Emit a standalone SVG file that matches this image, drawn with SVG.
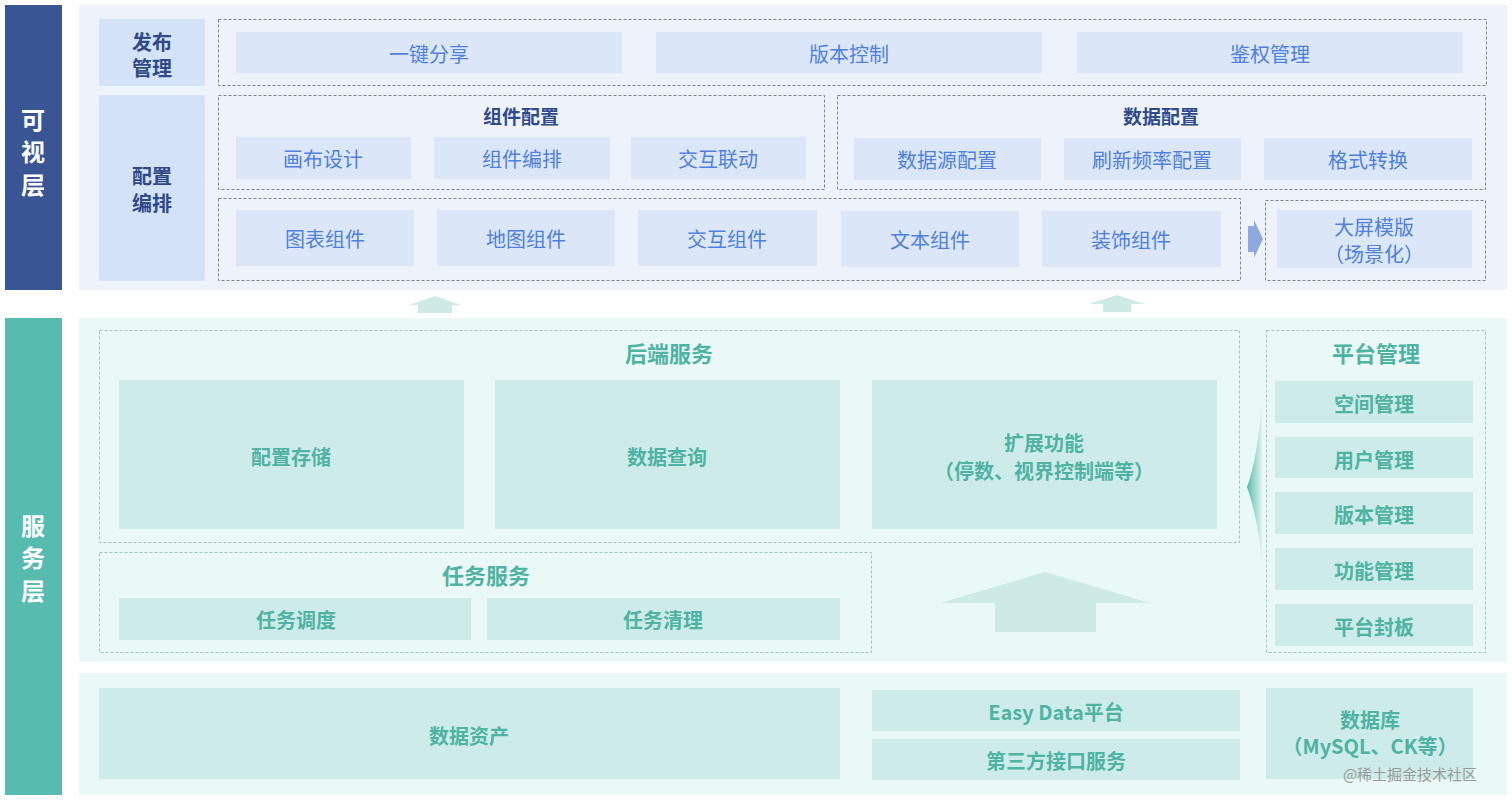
<svg xmlns="http://www.w3.org/2000/svg" width="1512" height="801" viewBox="0 0 1512 801">
<defs>
<style>
text{font-family:"Noto Sans CJK SC","Noto Sans",sans-serif;text-anchor:middle;dominant-baseline:central}
.bar-v{fill:#3a5593}
.bar-s{fill:#58bbaf}
.bar-t{fill:#fff;font-size:24px;font-weight:bold}
.pan-v{fill:#eef3fb}
.pan-s{fill:#ebf9f6}
.hd{fill:#d3e2f7}
.hdt{fill:#2f4a8a;font-size:20px;font-weight:bold}
.dv{fill:none;stroke:#7d8390;stroke-width:1;stroke-dasharray:3 2}
.ds{fill:none;stroke:#9fc4bd;stroke-width:1;stroke-dasharray:3 2}
.bv{fill:#dbe7f8}
.tv{fill:#4f80de;font-size:20px}
.ttl{fill:#2f4a8a;font-size:19px;font-weight:bold}
.bs{fill:#cdece9}
.ts{fill:#4fb3a4;font-size:20px;font-weight:bold}
.tts{fill:#4fb3a4;font-size:22px;font-weight:bold}
.arr{fill:#cdeae6}
</style>
<linearGradient id="lg" x1="0" y1="0" x2="1" y2="0">
<stop offset="0" stop-color="#58bbaf"/>
<stop offset="1" stop-color="#58bbaf" stop-opacity="0.1"/>
</linearGradient>
</defs>

<g id="layer-visual">
<rect class="bar-v" x="5" y="5" width="57" height="285"/>
<text class="bar-t" x="33" y="118">可</text>
<text class="bar-t" x="33" y="150">视</text>
<text class="bar-t" x="33" y="183">层</text>
<rect class="pan-v" x="79" y="5" width="1428" height="285"/>
</g>

<g id="layer-service">
<rect class="bar-s" x="5" y="318" width="57" height="477"/>
<text class="bar-t" x="33" y="524">服</text>
<text class="bar-t" x="33" y="556">务</text>
<text class="bar-t" x="33" y="589">层</text>
<rect class="pan-s" x="79" y="318" width="1428" height="344"/>
<rect class="pan-s" x="79" y="673" width="1428" height="122"/>
</g>

<g id="publish">
<rect class="hd" x="99" y="19" width="106" height="67" rx="2"/>
<text class="hdt" x="152" y="41">发布</text>
<text class="hdt" x="152" y="67">管理</text>
<rect class="dv" x="218.5" y="19.5" width="1268" height="66"/>
<rect class="bv" x="236" y="32" width="386" height="41"/>
<text class="tv" x="429" y="53">一键分享</text>
<rect class="bv" x="656" y="32" width="386" height="41"/>
<text class="tv" x="849" y="53">版本控制</text>
<rect class="bv" x="1077" y="32" width="386" height="41"/>
<text class="tv" x="1270" y="53">鉴权管理</text>
</g>

<g id="config">
<rect class="hd" x="99" y="95" width="106" height="186" rx="2"/>
<text class="hdt" x="152" y="175">配置</text>
<text class="hdt" x="152" y="202">编排</text>
</g>

<g id="component-config">
<rect class="dv" x="218.5" y="95.5" width="606" height="94"/>
<text class="ttl" x="521" y="115">组件配置</text>
<rect class="bv" x="236" y="137" width="175" height="42"/>
<text class="tv" x="323" y="158">画布设计</text>
<rect class="bv" x="434" y="137" width="176" height="42"/>
<text class="tv" x="522" y="158">组件编排</text>
<rect class="bv" x="631" y="137" width="175" height="42"/>
<text class="tv" x="718" y="158">交互联动</text>
</g>

<g id="data-config">
<rect class="dv" x="837.5" y="95.5" width="648" height="94"/>
<text class="ttl" x="1161" y="115">数据配置</text>
<rect class="bv" x="854" y="138" width="187" height="42"/>
<text class="tv" x="947" y="159">数据源配置</text>
<rect class="bv" x="1064" y="138" width="177" height="42"/>
<text class="tv" x="1152" y="159">刷新频率配置</text>
<rect class="bv" x="1264" y="138" width="208" height="42"/>
<text class="tv" x="1368" y="159">格式转换</text>
</g>

<g id="components">
<rect class="dv" x="218.5" y="198.5" width="1022" height="82"/>
<rect class="bv" x="236" y="210" width="178" height="56"/>
<text class="tv" x="325" y="238">图表组件</text>
<rect class="bv" x="437" y="210" width="178" height="56"/>
<text class="tv" x="526" y="238">地图组件</text>
<rect class="bv" x="638" y="210" width="179" height="56"/>
<text class="tv" x="727" y="238">交互组件</text>
<rect class="bv" x="841" y="211" width="178" height="56"/>
<text class="tv" x="930" y="239">文本组件</text>
<rect class="bv" x="1042" y="211" width="179" height="56"/>
<text class="tv" x="1131" y="239">装饰组件</text>
</g>

<g id="template">
<rect class="dv" x="1265.5" y="200.5" width="220" height="80"/>
<rect class="bv" x="1277" y="210" width="195" height="58"/>
<text class="tv" x="1374" y="226">大屏模版</text>
<text class="tv" x="1374" y="253">（场景化）</text>
</g>

<g id="backend">
<rect class="ds" x="99.5" y="330.5" width="1140" height="212"/>
<text class="tts" x="669" y="352">后端服务</text>
<rect class="bs" x="119" y="380" width="345" height="149"/>
<text class="ts" x="291" y="456">配置存储</text>
<rect class="bs" x="495" y="380" width="345" height="149"/>
<text class="ts" x="667" y="456">数据查询</text>
<rect class="bs" x="872" y="380" width="345" height="149"/>
<text class="ts" x="1044" y="442">扩展功能</text>
<text class="ts" x="1044" y="470">（停数、视界控制端等）</text>
</g>

<g id="task">
<rect class="ds" x="99.5" y="552.5" width="772" height="100"/>
<text class="tts" x="486" y="574">任务服务</text>
<rect class="bs" x="119" y="598" width="352" height="42"/>
<text class="ts" x="296" y="619">任务调度</text>
<rect class="bs" x="487" y="598" width="353" height="42"/>
<text class="ts" x="663" y="619">任务清理</text>
</g>

<g id="platform">
<rect class="ds" x="1266.5" y="330.5" width="219" height="322"/>
<text class="tts" x="1376" y="352">平台管理</text>
<rect class="bs" x="1275" y="381" width="198" height="42"/>
<text class="ts" x="1374" y="403">空间管理</text>
<rect class="bs" x="1275" y="437" width="198" height="41"/>
<text class="ts" x="1374" y="459">用户管理</text>
<rect class="bs" x="1275" y="492" width="198" height="42"/>
<text class="ts" x="1374" y="514">版本管理</text>
<rect class="bs" x="1275" y="548" width="198" height="42"/>
<text class="ts" x="1374" y="570">功能管理</text>
<rect class="bs" x="1275" y="604" width="198" height="42"/>
<text class="ts" x="1374" y="626">平台封板</text>
</g>

<g id="data-assets">
<rect class="bs" x="99" y="688" width="741" height="91"/>
<text class="ts" x="469" y="735">数据资产</text>
</g>
<g id="easydata">
<rect class="bs" x="872" y="690" width="368" height="41"/>
<text class="ts" x="1056" y="711">Easy Data平台</text>
<rect class="bs" x="872" y="739" width="368" height="41"/>
<text class="ts" x="1056" y="760">第三方接口服务</text>
</g>
<g id="database">
<rect class="bs" x="1266" y="688" width="207" height="91"/>
<text class="ts" x="1370" y="719">数据库</text>
<text class="ts" x="1370" y="745">（MySQL、CK等）</text>
</g>

<g id="connectors">
<polygon fill="#8fa9de" points="1248,226 1254,226 1254,220 1263,239 1254,258 1254,252 1248,252"/>
<polygon class="arr" points="409,305 435,296 461,305 452,305 452,313 418,313 418,305"/>
<polygon class="arr" points="1089,304 1117,295 1145,304 1131,304 1131,312 1103,312 1103,304"/>
<polygon class="arr" points="940,603 1045,572 1150,603 1096,603 1096,632 995,632 995,603"/>
<path fill="url(#lg)" d="M1262,403 Q1257,460 1247,487 Q1257,515 1262,560 Z"/>
</g>

<text x="1410" y="773" style="fill:#9a9a9a;font-size:15px">@稀土掘金技术社区</text>
</svg>
